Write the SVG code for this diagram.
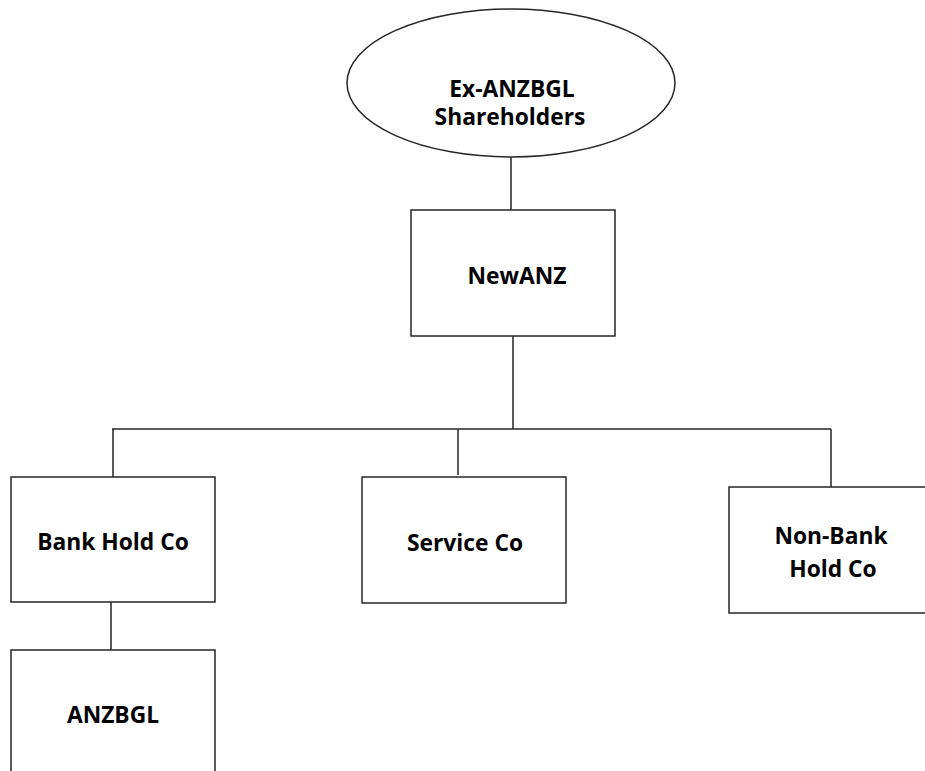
<svg xmlns="http://www.w3.org/2000/svg" width="925" height="771" viewBox="0 0 925 771">
<style>
.n{fill:#fff;stroke:#262626;stroke-width:1.5}
.c{stroke:#262626;stroke-width:1.5;fill:none}
text{font-family:"Open Sans","Noto Sans","Liberation Sans",sans-serif;font-weight:bold;font-size:22.8px;fill:#000;text-anchor:middle}
</style>
<rect width="925" height="771" fill="#fff"/>
<g id="connectors">
<line class="c" x1="511" y1="157" x2="511" y2="210"/>
<line class="c" x1="513" y1="336" x2="513" y2="429"/>
<line class="c" x1="112" y1="429" x2="831" y2="429"/>
<line class="c" x1="113" y1="429" x2="113" y2="477"/>
<line class="c" x1="458" y1="429" x2="458" y2="475"/>
<line class="c" x1="831" y1="429" x2="831" y2="487"/>
<line class="c" x1="111" y1="602" x2="111" y2="650"/>
</g>
<g id="shareholders">
<ellipse class="n" cx="511" cy="83" rx="164" ry="74"/>
<text x="512" y="97">Ex-ANZBGL</text>
<text x="510" y="125">Shareholders</text>
</g>
<g id="newanz">
<rect class="n" x="411" y="210" width="204" height="126"/>
<text x="517" y="284">NewANZ</text>
</g>
<g id="bankholdco">
<rect class="n" x="11" y="477" width="204" height="125"/>
<text x="113" y="550">Bank Hold Co</text>
</g>
<g id="serviceco">
<rect class="n" x="362" y="477" width="204" height="126"/>
<text x="465" y="551">Service Co</text>
</g>
<g id="nonbank">
<rect class="n" x="729" y="487" width="204" height="126"/>
<text x="831" y="544">Non-Bank</text>
<text x="833" y="577">Hold Co</text>
</g>
<g id="anzbgl">
<rect class="n" x="11" y="650" width="204" height="130"/>
<text x="113" y="723">ANZBGL</text>
</g>
</svg>
